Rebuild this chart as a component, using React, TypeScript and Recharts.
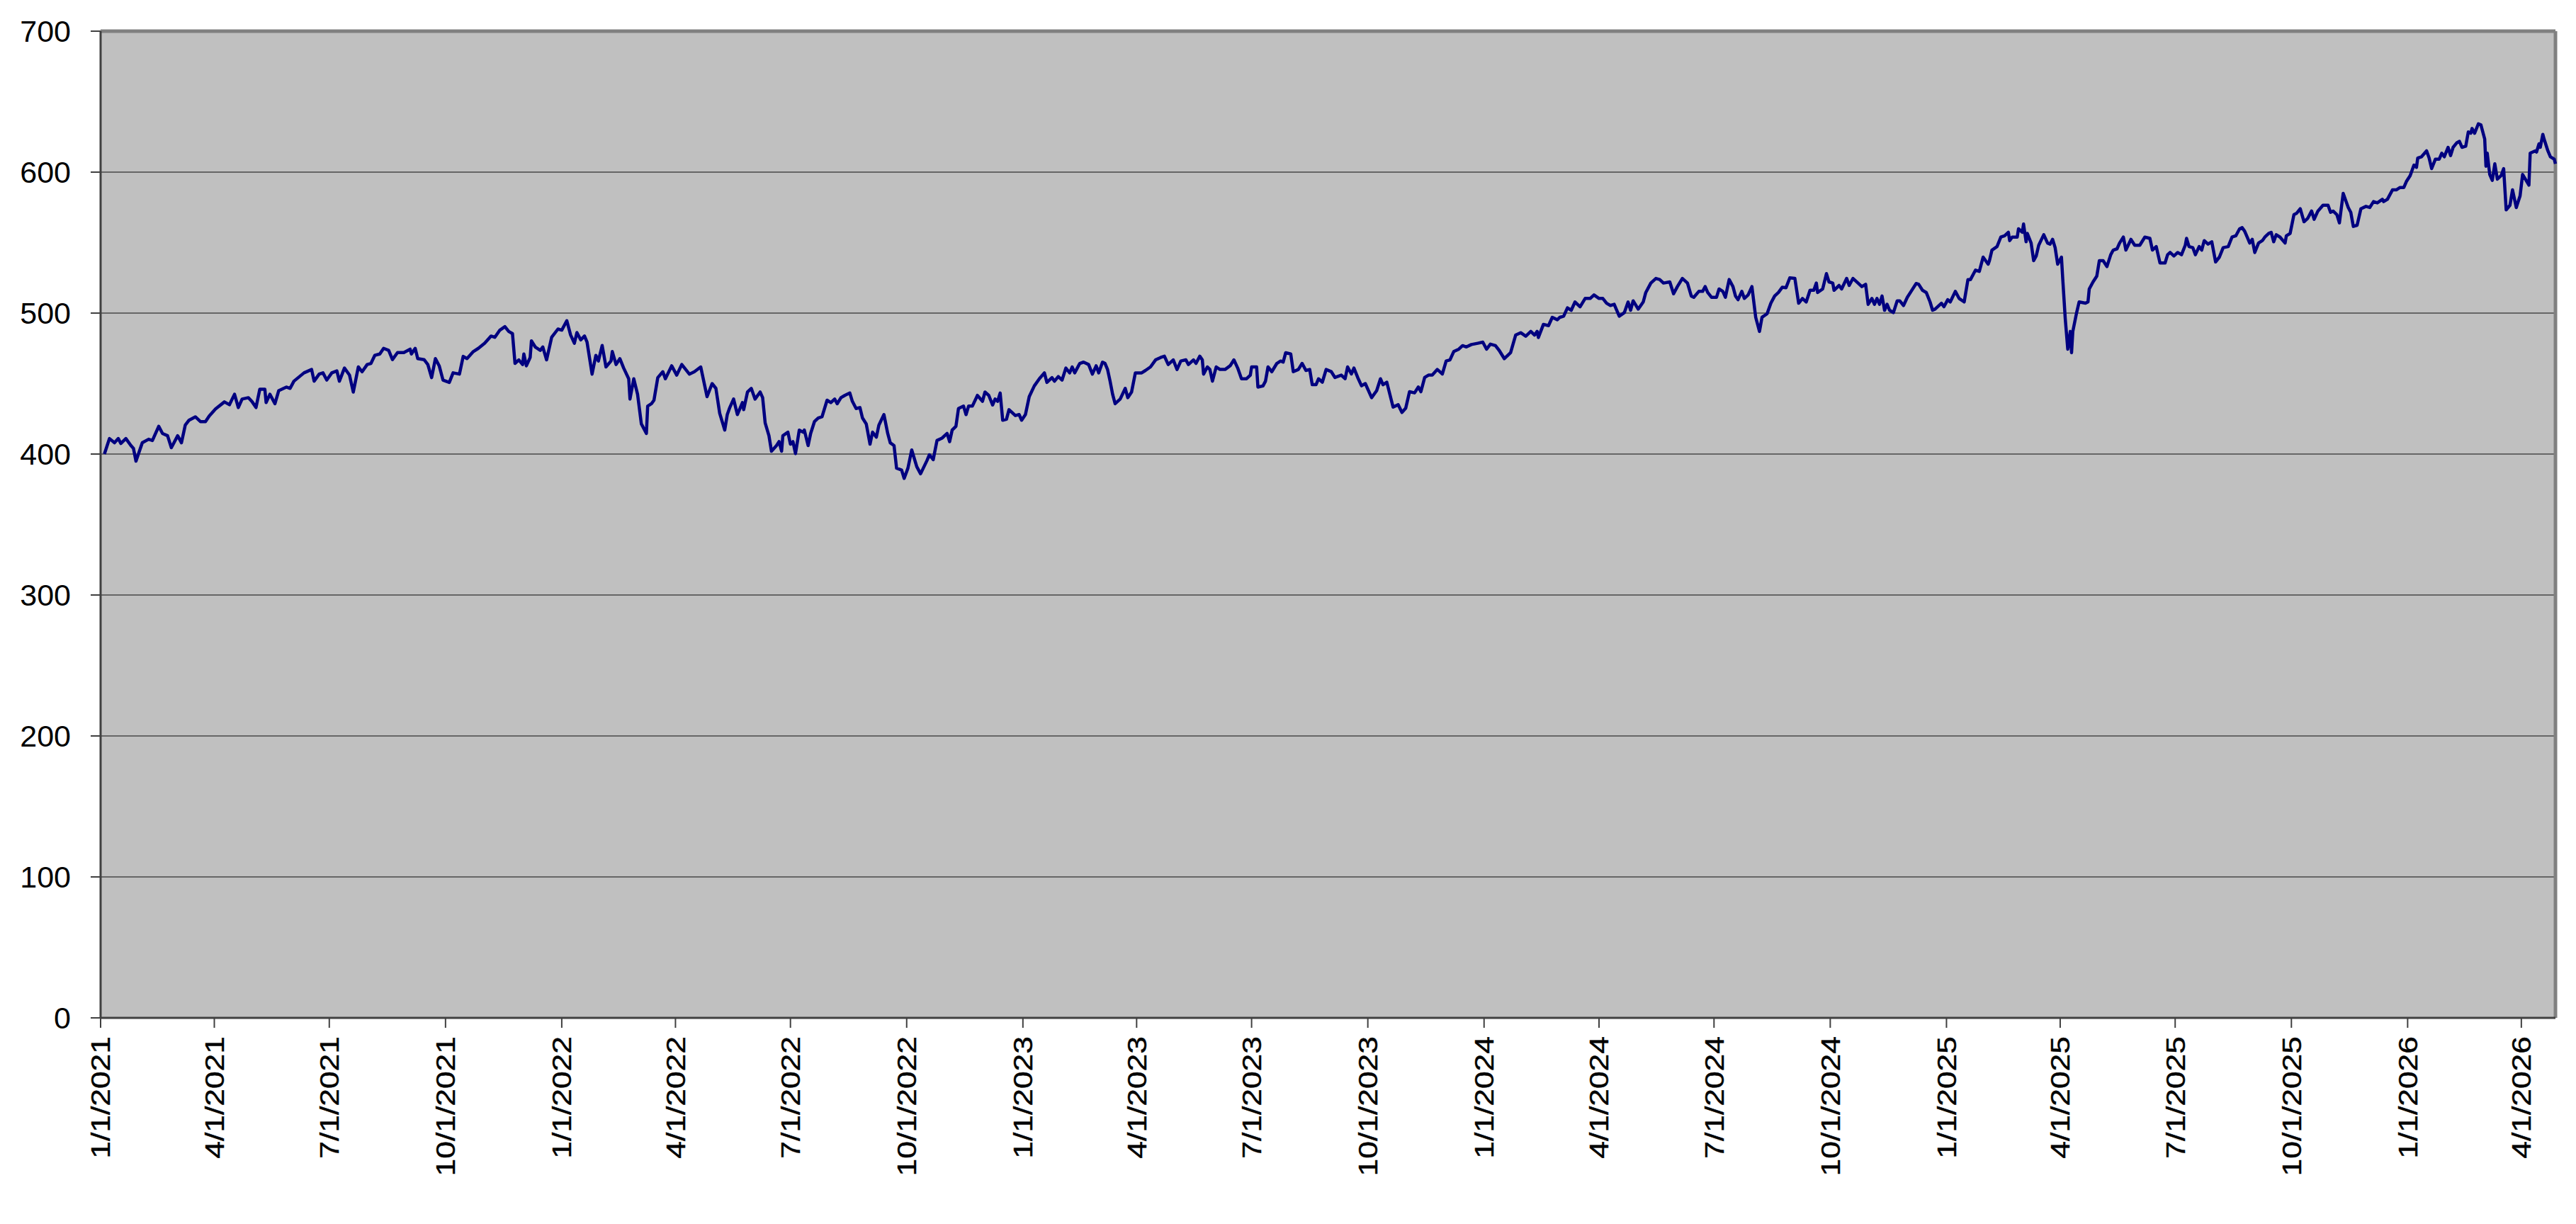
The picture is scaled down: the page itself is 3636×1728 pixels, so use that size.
import { CartesianGrid, Line, LineChart, ReferenceLine, XAxis, YAxis } from "recharts";

// closing levels, one line per month
const dates = [
  "2021-01-04", "2021-01-08", "2021-01-12", "2021-01-15", "2021-01-17", "2021-01-21", "2021-01-25", "2021-01-27", "2021-01-29",
  "2021-02-03", "2021-02-08", "2021-02-11", "2021-02-16", "2021-02-19", "2021-02-23", "2021-02-26",
  "2021-03-03", "2021-03-06", "2021-03-09", "2021-03-12", "2021-03-17", "2021-03-21", "2021-03-25", "2021-03-28",
  "2021-04-02", "2021-04-09", "2021-04-13", "2021-04-17", "2021-04-20", "2021-04-23", "2021-04-28",
  "2021-05-01", "2021-05-04", "2021-05-07", "2021-05-11", "2021-05-12", "2021-05-15", "2021-05-19", "2021-05-22", "2021-05-28", "2021-05-31",
  "2021-06-03", "2021-06-11", "2021-06-17", "2021-06-19", "2021-06-23", "2021-06-26", "2021-06-29",
  "2021-07-03", "2021-07-07", "2021-07-09", "2021-07-13", "2021-07-17", "2021-07-20", "2021-07-24", "2021-07-27", "2021-07-31",
  "2021-08-03", "2021-08-06", "2021-08-10", "2021-08-13", "2021-08-17", "2021-08-20", "2021-08-24", "2021-08-29",
  "2021-09-03", "2021-09-04", "2021-09-07", "2021-09-09", "2021-09-14", "2021-09-17", "2021-09-20", "2021-09-23", "2021-09-26", "2021-09-29",
  "2021-10-04", "2021-10-07", "2021-10-12", "2021-10-15", "2021-10-18", "2021-10-23", "2021-10-27",
  "2021-11-01", "2021-11-06", "2021-11-09", "2021-11-13", "2021-11-17", "2021-11-20", "2021-11-23", "2021-11-25", "2021-11-28",
  "2021-12-01", "2021-12-02", "2021-12-04", "2021-12-07", "2021-12-08", "2021-12-11", "2021-12-15", "2021-12-17", "2021-12-20", "2021-12-24", "2021-12-29",
  "2022-01-01", "2022-01-05", "2022-01-08", "2022-01-11", "2022-01-13", "2022-01-16", "2022-01-19", "2022-01-21", "2022-01-25", "2022-01-28", "2022-01-30",
  "2022-02-02", "2022-02-05", "2022-02-09", "2022-02-10", "2022-02-13", "2022-02-16", "2022-02-19", "2022-02-23", "2022-02-24", "2022-02-27",
  "2022-03-02", "2022-03-05", "2022-03-09", "2022-03-10", "2022-03-13", "2022-03-15", "2022-03-18", "2022-03-22", "2022-03-24", "2022-03-29",
  "2022-04-02", "2022-04-06", "2022-04-12", "2022-04-16", "2022-04-21", "2022-04-26", "2022-04-30",
  "2022-05-03", "2022-05-06", "2022-05-10", "2022-05-12", "2022-05-14", "2022-05-17", "2022-05-20", "2022-05-24", "2022-05-25", "2022-05-28", "2022-05-31",
  "2022-06-03", "2022-06-07", "2022-06-09", "2022-06-11", "2022-06-14", "2022-06-16", "2022-06-20", "2022-06-22", "2022-06-24", "2022-06-25", "2022-06-29",
  "2022-07-01", "2022-07-03", "2022-07-05", "2022-07-08", "2022-07-11", "2022-07-12", "2022-07-15", "2022-07-17", "2022-07-20", "2022-07-23", "2022-07-26", "2022-07-30",
  "2022-08-02", "2022-08-05", "2022-08-07", "2022-08-10", "2022-08-13", "2022-08-17", "2022-08-19", "2022-08-22", "2022-08-25", "2022-08-27", "2022-08-30",
  "2022-09-02", "2022-09-04", "2022-09-07", "2022-09-09", "2022-09-13", "2022-09-16", "2022-09-18", "2022-09-21", "2022-09-23", "2022-09-27", "2022-09-29",
  "2022-10-02", "2022-10-05", "2022-10-09", "2022-10-12", "2022-10-17", "2022-10-19", "2022-10-22", "2022-10-25", "2022-10-29",
  "2022-11-02", "2022-11-04", "2022-11-06", "2022-11-09", "2022-11-11", "2022-11-15", "2022-11-17", "2022-11-19", "2022-11-22", "2022-11-26", "2022-11-30",
  "2022-12-02", "2022-12-05", "2022-12-08", "2022-12-10", "2022-12-12", "2022-12-14", "2022-12-16", "2022-12-19", "2022-12-21", "2022-12-26", "2022-12-29", "2022-12-31",
  "2023-01-03", "2023-01-06", "2023-01-10", "2023-01-14", "2023-01-18", "2023-01-20", "2023-01-24", "2023-01-26", "2023-01-29",
  "2023-02-01", "2023-02-04", "2023-02-07", "2023-02-09", "2023-02-11", "2023-02-15", "2023-02-18", "2023-02-22", "2023-02-25", "2023-02-28",
  "2023-03-02", "2023-03-05", "2023-03-07", "2023-03-09", "2023-03-11", "2023-03-13", "2023-03-15", "2023-03-19", "2023-03-23", "2023-03-25", "2023-03-28", "2023-03-31",
  "2023-04-05", "2023-04-08", "2023-04-12", "2023-04-16", "2023-04-20", "2023-04-23", "2023-04-26", "2023-04-30",
  "2023-05-03", "2023-05-06", "2023-05-10", "2023-05-12", "2023-05-16", "2023-05-18", "2023-05-21", "2023-05-23", "2023-05-24", "2023-05-27", "2023-05-29", "2023-05-31",
  "2023-06-03", "2023-06-06", "2023-06-10", "2023-06-14", "2023-06-17", "2023-06-20", "2023-06-23", "2023-06-27", "2023-06-30",
  "2023-07-01", "2023-07-05", "2023-07-06", "2023-07-10", "2023-07-12", "2023-07-14", "2023-07-17", "2023-07-21", "2023-07-24", "2023-07-26", "2023-07-28",
  "2023-08-01", "2023-08-03", "2023-08-07", "2023-08-10", "2023-08-13", "2023-08-16", "2023-08-18", "2023-08-21", "2023-08-23", "2023-08-26", "2023-08-29",
  "2023-09-02", "2023-09-05", "2023-09-10", "2023-09-13", "2023-09-15", "2023-09-18", "2023-09-20", "2023-09-23", "2023-09-26", "2023-09-29",
  "2023-10-04", "2023-10-08", "2023-10-11", "2023-10-13", "2023-10-16", "2023-10-21", "2023-10-25", "2023-10-28", "2023-10-31",
  "2023-11-03", "2023-11-07", "2023-11-10", "2023-11-12", "2023-11-15", "2023-11-18", "2023-11-21", "2023-11-25", "2023-11-29",
  "2023-12-02", "2023-12-05", "2023-12-08", "2023-12-12", "2023-12-15", "2023-12-18", "2023-12-22", "2023-12-27", "2023-12-31",
  "2024-01-03", "2024-01-06", "2024-01-10", "2024-01-13", "2024-01-17", "2024-01-22", "2024-01-26", "2024-01-30",
  "2024-02-03", "2024-02-07", "2024-02-10", "2024-02-12", "2024-02-13", "2024-02-17", "2024-02-21", "2024-02-24", "2024-02-28",
  "2024-03-01", "2024-03-04", "2024-03-07", "2024-03-10", "2024-03-13", "2024-03-17", "2024-03-21", "2024-03-25", "2024-03-28",
  "2024-04-01", "2024-04-04", "2024-04-07", "2024-04-10", "2024-04-13", "2024-04-17", "2024-04-21", "2024-04-24", "2024-04-26", "2024-04-28",
  "2024-05-02", "2024-05-06", "2024-05-08", "2024-05-12", "2024-05-16", "2024-05-19", "2024-05-22", "2024-05-27", "2024-05-30",
  "2024-06-02", "2024-06-06", "2024-06-10", "2024-06-13", "2024-06-15", "2024-06-19", "2024-06-22", "2024-06-24", "2024-06-26", "2024-06-29",
  "2024-07-03", "2024-07-05", "2024-07-08", "2024-07-10", "2024-07-13", "2024-07-16", "2024-07-18", "2024-07-20", "2024-07-23", "2024-07-25", "2024-07-28", "2024-07-31",
  "2024-08-03", "2024-08-06", "2024-08-08", "2024-08-12", "2024-08-15", "2024-08-18", "2024-08-21", "2024-08-24", "2024-08-27", "2024-08-30",
  "2024-09-03", "2024-09-06", "2024-09-09", "2024-09-12", "2024-09-15", "2024-09-18", "2024-09-20", "2024-09-21", "2024-09-25", "2024-09-28", "2024-09-30",
  "2024-10-03", "2024-10-04", "2024-10-08", "2024-10-10", "2024-10-14", "2024-10-16", "2024-10-19", "2024-10-23", "2024-10-26", "2024-10-29", "2024-10-31",
  "2024-11-03", "2024-11-05", "2024-11-07", "2024-11-09", "2024-11-11", "2024-11-13", "2024-11-15", "2024-11-17", "2024-11-20", "2024-11-23", "2024-11-25", "2024-11-28",
  "2024-12-01", "2024-12-04", "2024-12-08", "2024-12-10", "2024-12-13", "2024-12-16", "2024-12-19", "2024-12-21", "2024-12-23", "2024-12-28", "2024-12-30",
  "2025-01-02", "2025-01-04", "2025-01-08", "2025-01-11", "2025-01-15", "2025-01-18", "2025-01-20", "2025-01-24", "2025-01-27", "2025-01-30",
  "2025-02-03", "2025-02-04", "2025-02-06", "2025-02-10", "2025-02-13", "2025-02-16", "2025-02-19", "2025-02-20", "2025-02-22", "2025-02-26", "2025-02-27",
  "2025-03-02", "2025-03-03", "2025-03-05", "2025-03-06", "2025-03-09", "2025-03-11", "2025-03-13", "2025-03-15", "2025-03-19", "2025-03-22", "2025-03-24", "2025-03-26", "2025-03-28", "2025-03-30",
  "2025-04-02", "2025-04-03", "2025-04-05", "2025-04-07", "2025-04-09", "2025-04-10", "2025-04-11", "2025-04-14", "2025-04-16", "2025-04-21", "2025-04-23", "2025-04-24", "2025-04-27", "2025-04-30",
  "2025-05-02", "2025-05-05", "2025-05-08", "2025-05-11", "2025-05-13", "2025-05-16", "2025-05-18", "2025-05-21", "2025-05-23", "2025-05-27", "2025-05-30",
  "2025-06-03", "2025-06-07", "2025-06-11", "2025-06-13", "2025-06-16", "2025-06-19", "2025-06-23", "2025-06-25", "2025-06-27", "2025-06-30",
  "2025-07-03", "2025-07-06", "2025-07-09", "2025-07-10", "2025-07-12", "2025-07-15", "2025-07-17", "2025-07-20", "2025-07-22", "2025-07-24", "2025-07-27", "2025-07-30",
  "2025-08-02", "2025-08-05", "2025-08-08", "2025-08-12", "2025-08-15", "2025-08-18", "2025-08-21", "2025-08-23", "2025-08-25", "2025-08-27", "2025-08-29", "2025-08-31",
  "2025-09-02", "2025-09-05", "2025-09-08", "2025-09-10", "2025-09-13", "2025-09-15", "2025-09-17", "2025-09-19", "2025-09-22", "2025-09-26", "2025-09-27", "2025-09-30",
  "2025-10-03", "2025-10-05", "2025-10-08", "2025-10-11", "2025-10-14", "2025-10-17", "2025-10-19", "2025-10-22", "2025-10-26", "2025-10-30",
  "2025-11-01", "2025-11-03", "2025-11-06", "2025-11-08", "2025-11-11", "2025-11-15", "2025-11-17", "2025-11-19", "2025-11-22", "2025-11-25", "2025-11-29",
  "2025-12-02", "2025-12-05", "2025-12-08", "2025-12-12", "2025-12-13", "2025-12-16", "2025-12-20", "2025-12-23", "2025-12-26", "2025-12-29", "2025-12-31",
  "2026-01-03", "2026-01-06", "2026-01-08", "2026-01-09", "2026-01-12", "2026-01-16", "2026-01-18", "2026-01-20", "2026-01-23", "2026-01-26", "2026-01-28", "2026-01-30",
  "2026-02-02", "2026-02-04", "2026-02-06", "2026-02-09", "2026-02-11", "2026-02-13", "2026-02-16", "2026-02-18", "2026-02-20", "2026-02-21", "2026-02-23", "2026-02-26", "2026-02-28",
  "2026-03-03", "2026-03-04", "2026-03-05", "2026-03-07", "2026-03-09", "2026-03-11", "2026-03-13", "2026-03-16", "2026-03-18", "2026-03-20", "2026-03-23", "2026-03-25", "2026-03-28", "2026-03-31",
  "2026-04-02", "2026-04-07", "2026-04-08", "2026-04-12", "2026-04-13", "2026-04-15", "2026-04-16", "2026-04-18", "2026-04-19", "2026-04-22", "2026-04-24", "2026-04-27", "2026-04-28",
];

const values = [
  400, 411, 408, 411, 407.5, 411, 406, 404, 395,
  408, 410.5, 409.6, 419.7, 414.6, 413, 404.5,
  413, 408, 420.5, 424, 426.4, 423, 423, 427,
  432, 437, 435, 442.4, 433, 439, 440,
  437, 433, 446, 446, 436.5, 442.4, 435.7, 445, 447.5, 446.6,
  451.7, 457.6, 460, 451.7, 456.7, 457.6, 452.5,
  457.6, 459, 451.7, 461, 456, 444, 461.8, 458.4, 463.5,
  464.3, 470, 471, 475, 473.6, 467, 472, 472,
  474.4, 471, 475, 467.7, 467, 463.5, 454.2, 467.7, 462.6, 452.5,
  450.8, 457.6, 456.7, 469.3, 467.7, 472.7, 475,
  478.6, 483.7, 482.8, 487.9, 490.4, 487, 485.4, 464.3, 466.8,
  463.5, 471, 462.6, 468.5, 480.3, 476, 473.6, 476, 466.8, 482.8, 488.7,
  487.9, 494.6, 484.5, 478.6, 486.2, 481, 483.7, 479.5, 456.7, 470, 466,
  477, 461.8, 466, 472.7, 463.5, 467.7, 461, 453.4, 439, 453.4,
  442.4, 421.4, 414.6, 434, 435.7, 438.2, 454.2, 458.4, 453.4, 462.6,
  456, 463.5, 456.7, 458.4, 461.8, 440.7, 450,
  446.6, 429, 417, 428, 433, 439, 428, 436.5, 431.5, 444, 446.6,
  439, 444, 440, 422, 413, 402, 406, 408.8, 402, 413, 415.5,
  407, 408.8, 400.3, 417, 415.5, 417, 406, 414.6, 423, 425.6, 426.4, 438.2,
  436.5, 439, 435.7, 440, 441.6, 443.3, 437.4, 432.3, 433, 425.6, 421.4,
  407, 415.5, 412, 420.5, 428, 414.6, 408, 406, 390, 388.6, 382.7,
  390, 402.9, 391, 386, 395.3, 399.5, 396, 409.6, 411.3,
  414.6, 408.8, 417, 419.7, 432.3, 434, 428, 434, 434, 441.6, 437.4,
  444, 441.6, 434.8, 439, 437.4, 443.3, 424, 424.7, 431.5, 427.3, 428, 424,
  428, 440.7, 448.3, 453.4, 457.6, 450.8, 454.2, 451.7, 455,
  452.5, 461, 457.6, 461.8, 457.6, 464.3, 465.2, 463.5, 456.7, 462.6,
  457.6, 465.2, 464.3, 460, 451.7, 442.4, 435.7, 439, 446.6, 440, 444, 457.6,
  457.6, 459.3, 461.8, 466.8, 468.5, 469.4, 463.5, 466.8,
  460, 466, 466.8, 463.5, 466.8, 464.3, 469.4, 466.8, 456.7, 461.8, 460, 451.7,
  461.8, 460, 460, 462.6, 466.8, 461, 453.4, 453.4, 456,
  461.8, 461.8, 447.5, 448.3, 451.7, 461.8, 458.4, 464.3, 466, 465.2, 471.9,
  471, 458.4, 460, 464.3, 459.3, 460, 449.2, 449.2, 453.4, 451, 460,
  458.5, 454.3, 456, 453.4, 461.8, 456.8, 461, 454.3, 448.4, 450,
  440, 445, 453.4, 449.2, 451, 433.3, 435, 429.5, 432.5,
  444.2, 443.4, 447.6, 444.2, 454.3, 456, 456, 460, 456.8,
  466, 466.8, 472.7, 474.4, 476.9, 476, 477.7, 478.6, 479.4,
  474.4, 478, 476.9, 473.5, 467.7, 471.9, 484.4, 486.1,
  483.6, 487, 484.4, 487, 482.7, 492, 491.1, 497, 495.3,
  497, 497.8, 503.7, 502, 507.9, 504.5, 510.4, 510.4, 512.9,
  510.4, 510.4, 507, 505.4, 506.2, 497.8, 500.3, 507.9, 502, 508.7,
  502.8, 507.9, 514.6, 521.3, 524.6, 523.8, 521.3, 522.1, 513.7,
  518.8, 524.6, 521.3, 512.1, 511.2, 515.4, 515.4, 518.8, 514.6, 511.2,
  511.2, 517.1, 515.4, 511.2, 523.8, 518.8, 512.1, 509.5, 515.4, 510.4, 512.9, 518.8,
  497, 487, 497, 499.5, 507, 512.1, 514.6, 518.3, 518, 525,
  524.6, 507, 510.4, 507.9, 516.2, 516.2, 521.3, 514.6, 517.1, 528, 522.1,
  521.3, 516.2, 519.6, 517.1, 524.6, 519.6, 524.6, 521.3, 518.8, 520.4, 506.2,
  510.4, 506.2, 510.4, 506.2, 512.1, 502, 506.2, 502, 500.3, 508.7, 508.7, 505.4,
  511.2, 515.4, 521, 520.4, 516.2, 514.6, 507.9, 502, 502.8, 507, 504.5,
  509.5, 507.9, 515.4, 510.4, 507.9, 523.8, 523.8, 530.5, 529.6, 539.7,
  534.7, 537.2, 544.7, 547.2, 553.9, 554.8, 557.3, 551.4, 553.9, 553.9, 559.8,
  557.3, 563.2, 550.6, 556.5, 549.7, 537.2, 540.5, 548.1, 555.6, 549.7, 548.9, 552.3, 546.4, 534.7,
  539.7, 524.6, 496.1, 474.4, 487, 471.9, 487, 500.3, 507.9, 507, 507.9, 517.1, 522.1, 526.3,
  537.2, 537.2, 533, 541.4, 544.7, 545.6, 549.7, 553.9, 544.7, 552.3, 548.1,
  548.1, 553.9, 553, 544.7, 547.2, 535.5, 535.5, 541.4, 543, 540.5,
  543, 541.4, 548.1, 553, 547.2, 546.4, 541.4, 547.2, 544.7, 551.4, 548.9, 550.6,
  536.3, 539.7, 546.4, 547.2, 553.9, 554.8, 559.8, 560.6, 558.1, 553.9, 549.7, 552.3,
  543, 549.7, 551.4, 553.9, 556.5, 557.3, 550.6, 555.6, 553.9, 549.7, 554.8, 556.5,
  569.8, 570.7, 574, 564.8, 567.3, 572.4, 566.5, 572.4, 576.5, 576.5,
  571.5, 572.4, 569.8, 564, 584.9, 574.9, 571.5, 561.5, 562.3, 574, 575.7,
  574.9, 579.1, 578.2, 580.7, 579.1, 580.7, 587.4, 587.4, 589.1, 589.1, 593.3,
  597.5, 605, 603.4, 610, 610.9, 615.1, 610, 602.5, 609.2, 609.2, 613.4, 610.9,
  617.6, 611.7, 617.6, 620.9, 621.8, 617.6, 618.4, 628.5, 627.6, 631, 627.6, 634.3, 633.5,
  623.5, 604.2, 613.4, 598.3, 594.1, 605.9, 595, 597.5, 602.5, 573.2, 576.5, 587.4, 574.9, 583.2,
  598.3, 590.8, 613.4, 615.1, 614.2, 620.1, 617.6, 626.8, 623.5, 615.1, 610.9, 609.2, 605.9,
];

const quarterTicks = [
  "2021-01-01", "2021-04-01", "2021-07-01", "2021-10-01",
  "2022-01-01", "2022-04-01", "2022-07-01", "2022-10-01",
  "2023-01-01", "2023-04-01", "2023-07-01", "2023-10-01",
  "2024-01-01", "2024-04-01", "2024-07-01", "2024-10-01",
  "2025-01-01", "2025-04-01", "2025-07-01", "2025-10-01",
  "2026-01-01", "2026-04-01",
];

const yTicks = [0, 100, 200, 300, 400, 500, 600, 700];

const FONT = "'Liberation Sans', Arial, Helvetica, sans-serif";

const data = dates.map((d, i) => ({ t: Date.parse(d), v: values[i] }));
const tickTimes = quarterTicks.map((d) => Date.parse(d));
const xMin = Date.parse(quarterTicks[0]);
const xMax = data[data.length - 1].t;

function DateTick({ x, y, payload }: any) {
  const d = new Date(payload.value);
  const label = `${d.getUTCMonth() + 1}/${d.getUTCDate()}/${d.getUTCFullYear()}`;
  return (
    <text
      transform={`translate(${x},${y}) rotate(-90) scale(1.2,1)`}
      textAnchor="end"
      dy="0.36em"
      fontSize={37}
      fontFamily={FONT}
      fill="#000"
      stroke="#000"
      strokeWidth={0.4}
    >
      {label}
    </text>
  );
}

export default function App() {
  return (
    <div style={{ position: "absolute", left: 0, top: 0, width: 3636, height: 1728, background: "#fff" }}>
      <LineChart width={3636} height={1728} data={data} margin={{ top: 44, right: 29, bottom: 0, left: 0 }}>
        <CartesianGrid vertical={false} stroke="#666" strokeWidth={2} fill="#c0c0c0" fillOpacity={1} />
        <XAxis
          dataKey="t"
          type="number"
          domain={[xMin, xMax]}
          ticks={tickTimes}
          interval={0}
          height={291}
          tickSize={14}
          tickMargin={12}
          tick={<DateTick />}
          axisLine={{ stroke: "#404040", strokeWidth: 3 }}
          tickLine={{ stroke: "#404040", strokeWidth: 2 }}
        />
        <YAxis
          type="number"
          domain={[0, 700]}
          ticks={yTicks}
          interval={0}
          width={142}
          tickSize={14}
          tickMargin={28}
          tick={{ fontSize: 43, fontFamily: FONT, fill: "#000" }}
          axisLine={{ stroke: "#404040", strokeWidth: 3 }}
          tickLine={{ stroke: "#404040", strokeWidth: 2 }}
        />
        <ReferenceLine y={700} stroke="#808080" strokeWidth={5} />
        <ReferenceLine x={xMax} stroke="#808080" strokeWidth={5} />
        <Line
          type="linear"
          dataKey="v"
          stroke="#000080"
          strokeWidth={4.5}
          strokeLinejoin="round"
          dot={false}
          isAnimationActive={false}
        />
      </LineChart>
    </div>
  );
}
